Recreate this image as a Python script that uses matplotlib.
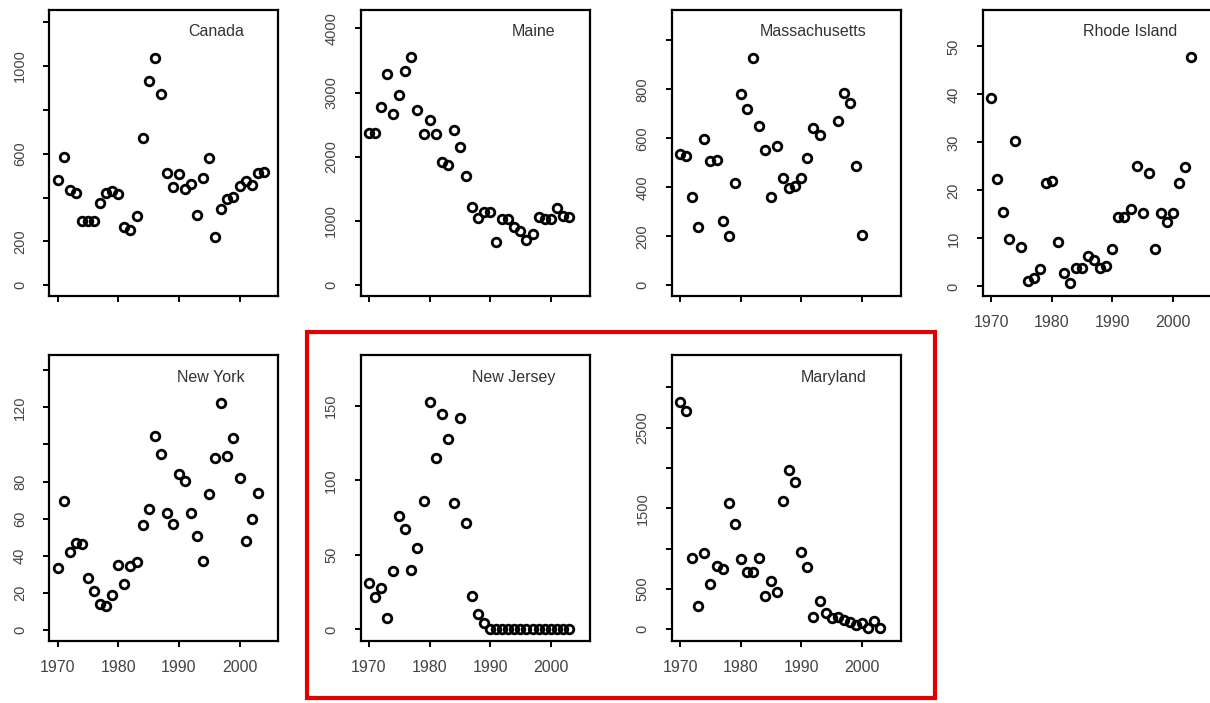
import matplotlib
matplotlib.use("Agg")
import matplotlib.pyplot as plt
import matplotlib.patches as patches
import numpy as np

plt.rcParams['font.family'] = ['Liberation Sans', 'DejaVu Sans']

# data (annual values)
years = list(range(1970, 2004))
years_canada = list(range(1970, 2005))

canada = [478, 584, 434, 419, 291, 294, 294, 373, 419, 428, 416, 267, 254, 317, 672,
          930, 1038, 873, 514, 447, 509, 439, 462, 322, 490, 578, 221, 348, 393, 401,
          454, 474, 458, 514, 516]
maine = [2375, 2375, 2776, 3286, 2672, 2969, 3333, 3547, 2724, 2349, 2578, 2349, 1927,
         1875, 2411, 2151, 1708, 1224, 1047, 1135, 1135, 667, 1031, 1031, 911, 849, 708,
         797, 1057, 1031, 1031, 1203, 1083, 1068]
massachusetts = [536, 527, 359, 239, 598, 506, 512, 261, 202, 416, 780, 721, 930, 650,
                 553, 362, 568, 437, 397, 404, 438, 520, 643, 612, np.nan, np.nan, 670,
                 785, 744, 486, 206, np.nan, np.nan, np.nan]
rhode_island = [39.3, 22.4, 15.5, 9.9, 30.4, 8.3, 1.1, 1.8, 3.7, 21.6, 22.0, 9.3, 2.8,
                0.7, 3.9, 3.9, 6.4, 5.5, 3.9, 4.3, 7.8, 14.4, 14.4, 16.1, 25.0, 15.4,
                23.6, 7.8, 15.4, 13.4, 15.3, 21.6, 24.8, 47.8]
new_york = [33.2, 69.5, 41.9, 47.1, 46.2, 28.2, 21.2, 14.0, 12.9, 18.9, 35.0, 24.6, 34.7,
            36.5, 56.6, 65.2, 104.7, 94.8, 62.9, 57.1, 83.9, 80.5, 63.2, 50.7, 37.4,
            73.1, 92.9, 122.5, 93.9, 103.6, 81.7, 48.0, 59.6, 73.6]
new_jersey = [31.3, 21.5, 28.0, 7.4, 39.4, 76.3, 67.2, 39.8, 54.8, 86.2, 152.4, 114.8,
              144.6, 127.8, 84.6, 142.2, 71.6, 22.6, 10.1, 4.5,
              0, 0, 0, 0, 0, 0, 0, 0, 0, 0, 0, 0, 0, 0]
maryland = [2814, 2707, 880, 293, 950, 558, 789, 744, 1562, 1302, 868, 707, 707, 888,
            413, 599, 467, 1591, 1975, 1822, 963, 769, 157, 355, 198, 136, 149, 116, 95,
            54, 83, 12, 103, 12]

names = ['Canada', 'Maine', 'Massachusetts', 'Rhode Island',
         'New York', 'New Jersey', 'Maryland']
series = [(years_canada, canada), (years, maine), (years, massachusetts),
          (years, rhode_island), (years, new_york), (years, new_jersey),
          (years, maryland)]

y_ticks = [list(range(0, 1201, 200)), list(range(0, 4001, 1000)),
           list(range(0, 1001, 200)), list(range(0, 51, 10)),
           list(range(0, 141, 20)), [0, 50, 100, 150], list(range(0, 3001, 500))]
y_labels = [[0, 200, 600, 1000], [0, 1000, 2000, 3000, 4000],
            [0, 200, 400, 600, 800], [0, 10, 20, 30, 40, 50],
            [0, 20, 40, 60, 80, 120], [0, 50, 100, 150], [0, 500, 1500, 2500]]
y_limits = [(-49, 1255), (-167, 4286), (-44, 1124), (-2.0, 57.6),
            (-5.9, 148.2), (-7.8, 184.2), (-145, 3401)]
x_ticks = [1970, 1980, 1990, 2000]

W, H = 1210, 703
fig = plt.figure(figsize=(W / 100, H / 100), dpi=100)

col_left = [49.3, 360.5, 671.7, 982.7]
row_top = [10, 355]
ax_w, ax_h = 229, 286

positions = [(0, 0), (0, 1), (0, 2), (0, 3), (1, 0), (1, 1), (1, 2)]

for i, (name, (xs, ys)) in enumerate(zip(names, series)):
    r, c = positions[i]
    left = col_left[c] / W
    bottom = (H - row_top[r] - ax_h) / H
    ax = fig.add_axes([left, bottom, ax_w / W, ax_h / H])

    ax.plot(xs, ys, linestyle='none', marker='o', markersize=6.2,
            markerfacecolor='none', markeredgecolor='black', markeredgewidth=2.0)

    ax.set_xlim(1968.6, 2006.4)
    ax.set_ylim(*y_limits[i])

    ax.set_xticks(x_ticks)
    if r == 1 or c == 3:
        ax.set_xticklabels([str(t) for t in x_ticks])
    else:
        ax.set_xticklabels([''] * len(x_ticks))
    ax.set_yticks(y_ticks[i])
    ax.set_yticklabels([str(t) if t in y_labels[i] else '' for t in y_ticks[i]],
                       rotation=90, va='center')

    ax.tick_params(axis='x', length=4, width=1.4, pad=10, labelsize=11.5,
                   labelcolor='#444444')
    ax.tick_params(axis='y', length=4, width=1.4, pad=12, labelsize=10.5,
                   labelcolor='#444444')
    for sp in ax.spines.values():
        sp.set_linewidth(1.6)

    ax.text(1 - 34 / ax_w, 1 - 22 / ax_h, name, transform=ax.transAxes,
            ha='right', va='center', fontsize=11.5, color='#333333')

# red box around New Jersey and Maryland
rect = patches.Rectangle((307 / W, (H - 698) / H), (935 - 307) / W, (698 - 332) / H,
                         transform=fig.transFigure, fill=False,
                         edgecolor='#e00000', linewidth=3)
fig.patches.append(rect)

fig.savefig('out.png', dpi=100)
